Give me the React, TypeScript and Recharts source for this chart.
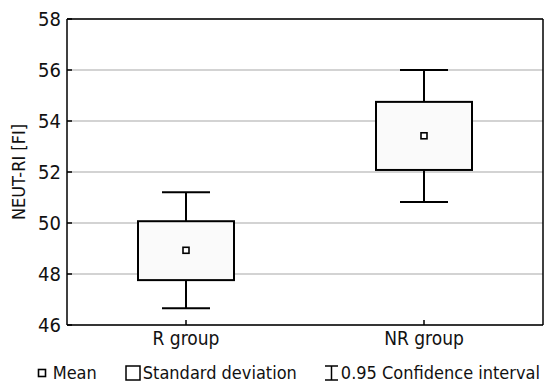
import { ComposedChart, Bar, Scatter, XAxis, YAxis, CartesianGrid, Legend } from 'recharts';

const groups = ['R group', 'NR group'];
const means = [48.93, 53.42];
const sdLow = [47.76, 52.08];
const sdHigh = [50.07, 54.75];
const ciLow = [46.66, 50.82];
const ciHigh = [51.21, 56.0];
const yTicks = [46, 48, 50, 52, 54, 56, 58];

const data = groups.map((name, i) => ({
  name,
  mean: means[i],
  sd: [sdLow[i], sdHigh[i]],
  ci: [ciLow[i], ciHigh[i]],
}));

const FONT = '"DejaVu Sans", sans-serif';
const TXT = { fontFamily: FONT, fontStretch: 'condensed' as const };

const Whisker = (props: any) => {
  const { x, y, width, height } = props;
  const cx = x + width / 2;
  return (
    <g stroke="#000" strokeWidth={2}>
      <line x1={cx} y1={y} x2={cx} y2={y + height} />
      <line x1={x} y1={y} x2={x + width} y2={y} />
      <line x1={x} y1={y + height} x2={x + width} y2={y + height} />
    </g>
  );
};

const Box = (props: any) => {
  const { x, y, width, height } = props;
  return <rect x={x} y={y} width={width} height={height} fill="#fafafa" stroke="#000" strokeWidth={2} />;
};

const MeanMark = (props: any) => {
  const { cx, cy } = props;
  return <rect x={cx - 3} y={cy - 3} width={6} height={6} fill="#fff" stroke="#000" strokeWidth={1.6} />;
};

const LegendContent = () => (
  <div style={{ ...TXT, display: 'flex', justifyContent: 'flex-end', alignItems: 'center', fontSize: 18, color: '#111', paddingRight: 4, whiteSpace: 'nowrap' }}>
    <svg width={10} height={10} style={{ marginRight: 6 }}>
      <rect x={1.5} y={1.5} width={7} height={7} fill="#fff" stroke="#000" strokeWidth={1.6} />
    </svg>
    <span style={{ marginRight: 28 }}>Mean</span>
    <svg width={16} height={16} style={{ marginRight: 2 }}>
      <rect x={1} y={1} width={14} height={14} fill="#fff" stroke="#000" strokeWidth={1.5} />
    </svg>
    <span style={{ marginRight: 27 }}>Standard deviation</span>
    <svg width={15} height={16} style={{ marginRight: 2 }}>
      <g stroke="#000" strokeWidth={1.5}>
        <line x1={1} y1={1} x2={14} y2={1} />
        <line x1={7.5} y1={1} x2={7.5} y2={15} />
        <line x1={1} y1={15} x2={14} y2={15} />
      </g>
    </svg>
    <span>0.95 Confidence interval</span>
  </div>
);

const axisStroke = { stroke: '#000', strokeWidth: 1.5 };

export default function App() {
  return (
    <div style={{ position: 'absolute', left: 0, top: 0, background: '#fff' }}>
      <ComposedChart width={545} height={387} data={data} margin={{ top: 18, right: 1, bottom: 0, left: 0 }}>
        <CartesianGrid horizontal vertical={false} stroke="#c4c4c4" strokeWidth={1.5} />
        <XAxis
          xAxisId="ci"
          dataKey="name"
          type="category"
          height={37}
          tickSize={-5}
          tickMargin={12}
          axisLine={axisStroke}
          tickLine={axisStroke}
          tick={{ fill: '#111', fontSize: 19, ...TXT }}
        />
        <XAxis xAxisId="box" dataKey="name" type="category" height={0} hide />
        <XAxis
          xAxisId="top"
          dataKey="name"
          type="category"
          orientation="top"
          height={1}
          tickSize={-5}
          tick={false}
          axisLine={axisStroke}
          tickLine={axisStroke}
        />
        <YAxis
          domain={[46, 58]}
          ticks={yTicks}
          width={67}
          tickSize={-5}
          tickMargin={11}
          axisLine={axisStroke}
          tickLine={axisStroke}
          tick={{ fill: '#111', fontSize: 20, ...TXT }}
          label={{ value: 'NEUT-RI [FI]', angle: -90, position: 'insideLeft', offset: 19, style: { fontSize: 18, ...TXT, fill: '#111', textAnchor: 'middle' } }}
        />
        <YAxis
          yAxisId="r"
          orientation="right"
          domain={[46, 58]}
          ticks={yTicks}
          width={1}
          tickSize={-5}
          tick={false}
          axisLine={axisStroke}
          tickLine={axisStroke}
        />
        <Bar xAxisId="ci" dataKey="ci" barSize={48} shape={<Whisker />} isAnimationActive={false} />
        <Bar xAxisId="box" dataKey="sd" barSize={96} shape={<Box />} isAnimationActive={false} />
        <Scatter xAxisId="box" dataKey="mean" shape={<MeanMark />} isAnimationActive={false} />
        <Legend verticalAlign="bottom" height={25} content={<LegendContent />} />
      </ComposedChart>
    </div>
  );
}
